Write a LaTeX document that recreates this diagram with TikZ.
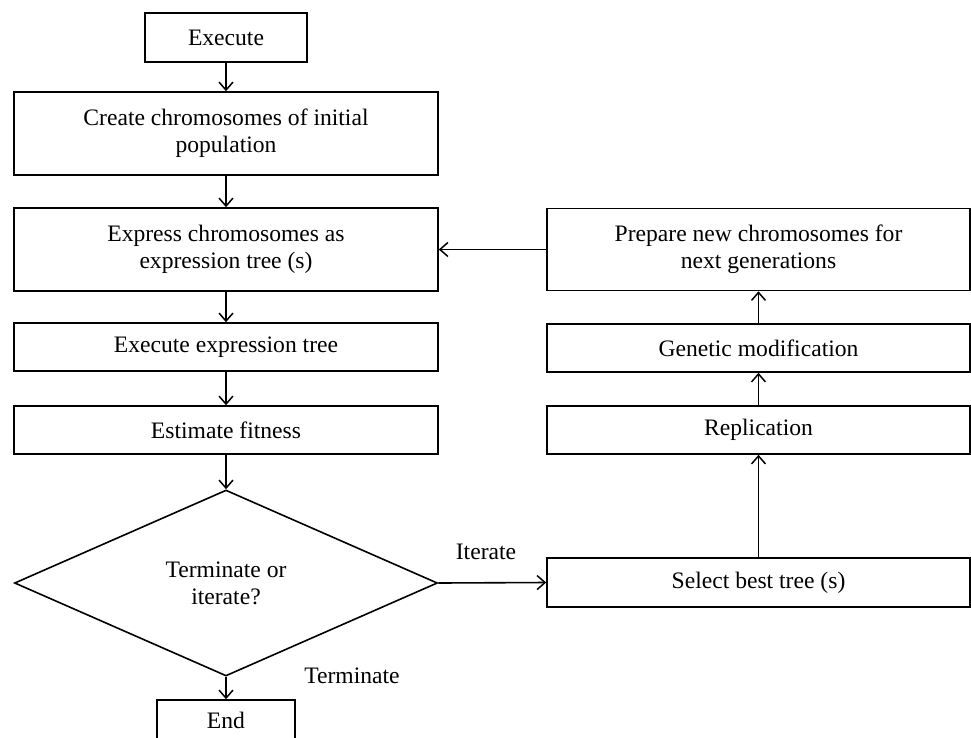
\documentclass[tikz,border=0pt]{standalone}
\usepackage{fontspec}
\setmainfont{Liberation Serif}
\usetikzlibrary{arrows.meta,shapes.geometric}
\begin{document}
\begin{tikzpicture}[x=1pt,y=-1pt,
  box/.style={draw, line width=1.6pt, rectangle, inner sep=0pt, align=center, font=\fontsize{23.6}{27}\selectfont},
  lbl/.style={inner sep=0pt, font=\fontsize{23.6}{27}\selectfont},
  arr/.style={line width=1.6pt, -{Straight Barb[length=8pt,width=14pt,line width=1.5pt]}}]
\useasboundingbox (0,0) rectangle (971,737);
\clip (0,0) rectangle (971,737);
% left column
\node[box, minimum width=162, minimum height=49] (exe) at (226,37.5) {Execute};
\node[box, minimum width=424, minimum height=83] (cre) at (226,133.5) {Create chromosomes of initial\\population};
\node[box, minimum width=424, minimum height=83] (exp) at (226,249.5) {Express chromosomes as\\expression tree (s)};
\node[box, minimum width=424, minimum height=48] (ext) at (226,347) {Execute expression tree};
\node[box, minimum width=424, minimum height=48] (fit) at (226,430) {Estimate fitness};
\node[box, shape=diamond, aspect=2.27, minimum width=423, minimum height=186] (dec) at (226,583) {Terminate or\\iterate?};
\node[box, minimum width=138, minimum height=40] (end) at (226,720) {End};
% right column
\node[box, minimum width=423, minimum height=82] (pre) at (758.5,249.5) {Prepare new chromosomes for\\next generations};
\node[box, minimum width=423, minimum height=48] (gen) at (758.5,348) {Genetic modification};
\node[box, minimum width=423, minimum height=48] (rep) at (758.5,430) {Replication};
\node[box, minimum width=423, minimum height=49] (sel) at (758.5,582.5) {Select best tree (s)};
% labels
\node[lbl] (it) at (486,552) {Iterate};
\node[lbl] (te) at (352,676) {Terminate};
% connectors
\draw[arr] (exe.south) -- (cre.north);
\draw[arr] (cre.south) -- (exp.north);
\draw[arr] (exp.south) -- (ext.north);
\draw[arr] (ext.south) -- (fit.north);
\draw[arr] (fit.south) -- (dec.north);
\draw[arr] (dec.east) -- (sel.west);
\draw[arr] (dec.south) -- (end.north);
\draw[arr] (sel.north) -- (rep.south);
\draw[arr] (rep.north) -- (gen.south);
\draw[arr] (gen.north) -- (pre.south);
\draw[arr] (pre.west) -- (exp.east);
\end{tikzpicture}
\end{document}
